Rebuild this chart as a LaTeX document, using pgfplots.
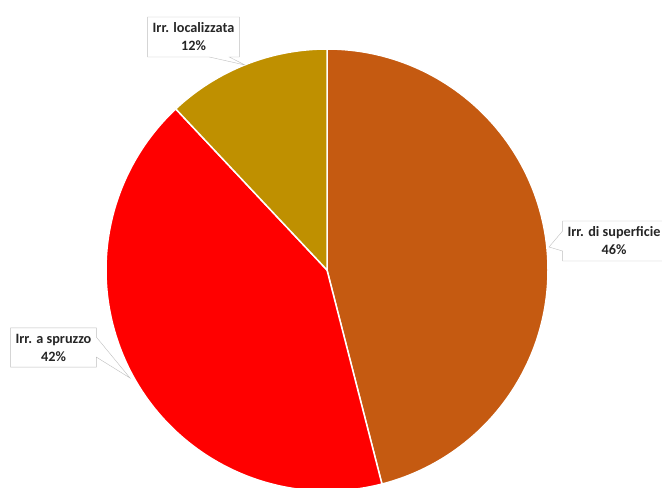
\documentclass[border=0pt]{standalone}
\usepackage{pgfplots}
\pgfplotsset{compat=1.18}
\usepackage{pgfplotstable}
\usepackage{fontspec}
\setmainfont{Carlito}
\usetikzlibrary{shapes.callouts}
\definecolor{cSup}{HTML}{C55A11}
\definecolor{cSpr}{HTML}{FF0000}
\definecolor{cLoc}{HTML}{BF9000}
\definecolor{cBox}{HTML}{BFBFBF}
\tikzset{lbl/.style={rectangle callout, draw=cBox, fill=white, align=center,
    font=\bfseries\fontsize{14.3}{18}\selectfont, inner xsep=5bp, inner ysep=6bp,
    callout pointer width=20bp, text=black!85}}
\pgfplotstableread{
label value
superficie 46
spruzzo 42
localizzata 12
}\piedata
\begin{document}
\begin{tikzpicture}
\useasboundingbox (0,0) rectangle (662bp,488bp);
\clip (0,0) rectangle (662bp,488bp);
\pgfplotstablegetelem{0}{value}\of\piedata \let\vA\pgfplotsretval
\pgfplotstablegetelem{1}{value}\of\piedata \let\vB\pgfplotsretval
\pgfplotstablegetelem{2}{value}\of\piedata \let\vC\pgfplotsretval
\pgfmathsetmacro\aA{90}
\pgfmathsetmacro\aB{90-3.6*\vA}
\pgfmathsetmacro\aC{\aB-3.6*\vB}
\pgfmathsetmacro\aD{\aC-3.6*\vC}
\begin{axis}[at={(0,0)}, anchor=south west, x=1bp, y=1bp,
  xmin=0, xmax=662, ymin=0, ymax=488, enlargelimits=false,
  hide axis, clip=false]
\filldraw[fill=cSup, draw=white, line width=1.5bp] (axis cs:327,218) -- ++(\aA:221bp) arc[start angle=\aA, end angle=\aB, radius=221bp] -- cycle;
\filldraw[fill=cSpr, draw=white, line width=1.5bp] (axis cs:327,218) -- ++(\aB:221bp) arc[start angle=\aB, end angle=\aC, radius=221bp] -- cycle;
\filldraw[fill=cLoc, draw=white, line width=1.5bp] (axis cs:327,218) -- ++(\aC:221bp) arc[start angle=\aC, end angle=\aD, radius=221bp] -- cycle;
\node[lbl, callout absolute pointer={(axis cs:245,423)}] at (axis cs:193.5,451) {Irr. localizzata\\12\%};
\node[lbl, callout absolute pointer={(axis cs:549,241)}] at (axis cs:614,247) {Irr. di superficie\\46\%};
\node[lbl, callout absolute pointer={(axis cs:130,110)}] at (axis cs:53.5,140.5) {Irr. a spruzzo\\42\%};
\end{axis}
\end{tikzpicture}
\end{document}
